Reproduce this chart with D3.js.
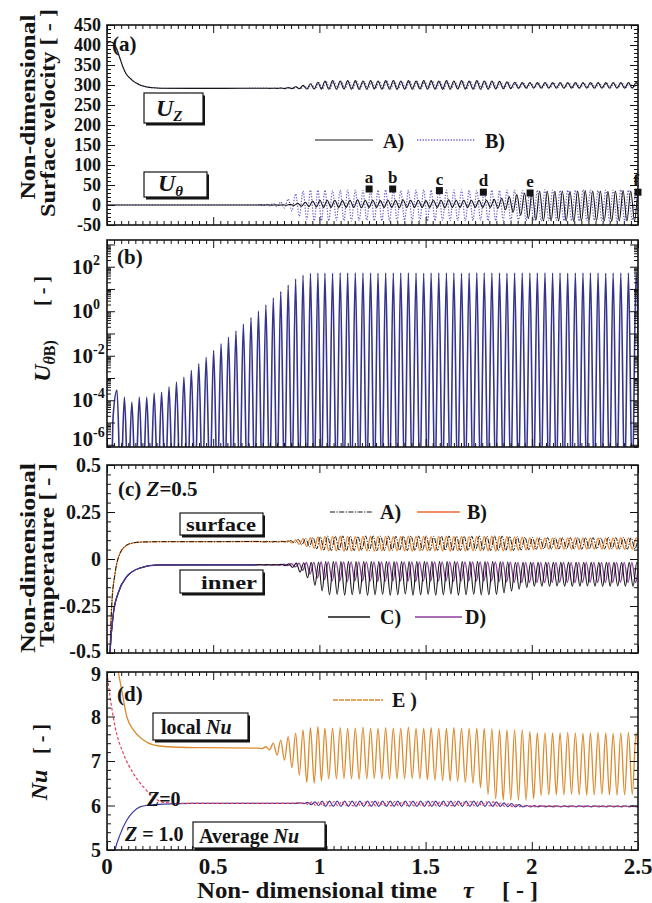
<!DOCTYPE html>
<html>
<head>
<meta charset="utf-8">
<script src="https://cdn.jsdelivr.net/npm/d3@7"></script>
<style>
  body { margin: 0; background: #fff; }
  svg text { font-family: "Liberation Serif", "Times New Roman", serif; font-weight: bold; fill: #141414; }
</style>
</head>
<body>
<svg id="fig" width="652" height="903"></svg>
<script>
// ---------------- data ----------------
const tauTicks = [0, 0.5, 1, 1.5, 2, 2.5];
const tauTickLabels = ["0", "0.5", "1", "1.5", "2", "2.5"];

// crest times of the oscillation (one per cycle)
const cycleTau = [
  0.047,0.082,0.117,0.152,0.187,0.222,0.257,0.292,0.327,0.362,
  0.397,0.432,0.467,0.502,0.537,0.572,0.607,0.642,0.678,0.713,
  0.748,0.783,0.818,0.853,0.888,0.923,0.958,0.993,1.026,1.062,
  1.098,1.133,1.169,1.205,1.241,1.276,1.312,1.348,1.383,1.419,
  1.455,1.491,1.526,1.562,1.598,1.633,1.669,1.705,1.741,1.776,
  1.812,1.848,1.883,1.919,1.955,1.991,2.026,2.062,2.098,2.133,
  2.169,2.205,2.241,2.276,2.312,2.348,2.383,2.419,2.455,2.491];
const OSC0 = 19; // first cycle listed in the per-cycle arrays of panels a, c, d

// (a) surface velocity
const uTicks = [-50, 0, 50, 100, 150, 200, 250, 300, 350, 400, 450];
const uTickLabels = ["-50", "0", "50", "100", "150", "200", "250", "300", "350", "400", "450"];
const uzRiseTau = [0,0.01,0.025,0.047,0.06,0.075,0.09,0.108,0.125,0.141,0.165,0.188,0.22,0.25,0.4,0.55,0.70];
const uzRise    = [403,408,406,388,368,345,328,317,309,304,298,295,293,292,291.5,291.5,292];
const uzAHi = [292,292,292,292.5,293.5,295.5,299,303,307,310,
  311,310,311,311,310,311,310,311,311,310,
  311,310,311,311,310,311,310,311,310,311,
  310,310,309,308,307,306,306,306,306,306,
  306,306,306,306,306,306,306,306,306,306,306];
const uzALo = [292,291.5,291.5,291,291,290.5,290,290,289.5,289.5,
  289.5,290,289.5,289,289.5,290,289.5,289.5,289,289.5,
  289.5,290,289.5,289.5,289,289.5,290,289.5,289.5,289.5,
  289.5,290,290.5,291,291.5,292,292,292,292,292,
  292,292,292,292,292,292,292,292,292,292,292];
const uzBHi = [292,292,292,292.5,293,295,298,302,306,309,
  310,309,310,310,309,310,309,310,310,309,
  310,309,310,310,309,310,309,310,309,310,
  309,309,308,307,306,305,305,305,305,305,
  305,305,305,305,305,305,305,305,305,305,305];
const uzBLo = [292,291.5,291.5,291,291,290.5,290.5,290,290,290,
  290,290.5,290,290,290,290.5,290,290,290,290,
  290,290.5,290,290,290,290,290.5,290,290,290,
  290,290.5,291,291.5,292,292.5,293,293,293,293,
  293,293,293,293,293,293,293,293,293,293,293];
const uthRiseTau = [0, 0.70];
const uthRise    = [0, 0];
const uthAHi = [0.3,0.3,0.3,0.5,1.5,4,7,10,12,12,
  12,11,12,13,12,12,11,12,12,13,
  12,12,11,12,12,13,12,12,12,12,
  12,14,17,21,26,30,33,35,35,35,
  35,34,35,36,35,35,34,35,36,35,35];
const uthALo = [-0.3,-0.3,-0.3,-0.5,-1,-3,-4,-5,-6,-6,
  -6,-6,-6,-7,-6,-6,-6,-6,-7,-6,
  -6,-6,-6,-6,-7,-6,-6,-6,-6,-6,
  -6,-8,-12,-18,-26,-34,-38,-40,-40,-40,
  -40,-41,-40,-40,-39,-40,-41,-40,-40,-40,-40];
const uthBHi = [1.0,1.9,3.9,7.6,15,28,35,37,37,37,
  36,37,38,37,36,37,37,38,37,36,
  37,37,38,37,36,37,37,38,37,36,
  37,37,36,37,37,36,37,37,38,37,
  36,37,37,38,37,36,37,37,38,37,37];
const uthBLo = [-1.0,-1.9,-3.9,-7.6,-15,-28,-36,-39,-39,-39,
  -38,-39,-40,-39,-38,-39,-39,-40,-39,-38,
  -39,-39,-40,-39,-38,-39,-39,-40,-39,-38,
  -39,-39,-38,-39,-40,-39,-39,-40,-39,-38,
  -39,-39,-40,-39,-38,-39,-39,-40,-39,-38,-39];
const markerName = ["a", "b", "c", "d", "e", "f"];
const markerTau  = [1.234, 1.345, 1.565, 1.772, 1.992, 2.5];
const markerVal  = [40, 40, 36, 32, 30, 32];

// (b) U_theta of B on a log axis
const logTicks = [-6, -4, -2, 0, 2];
const logTickLabels = ["-6", "-4", "-2", "0", "2"];
const ubLeadTau = [0.022, 0.029];
const ubLead    = [1e-8, 2e-5];
const ubPeak = [
  2.9e-4,1.4e-4,8.3e-5,1.4e-4,1.4e-4,2.1e-4,2.3e-4,4.0e-4,6.6e-4,1.1e-3,
  2.2e-3,4.3e-3,8.5e-3,1.7e-2,3.4e-2,6.8e-2,0.13,0.26,0.51,1.0,
  1.9,3.9,7.6,15,28,42,50,52,52,51,
  52,52,53,52,52,51,52,52,52,53,
  52,51,52,52,52,52,51,52,53,52,
  52,52,51,52,52,52,52,53,52,52,
  51,52,52,52,52,51,52,52,52,52];
const ubFloor = 1e-8;

// (c) temperature at Z = 0.5
const tTicks = [-0.5, -0.25, 0, 0.25, 0.5];
const tTickLabels = ["-0.5", "-0.25", "0", "0.25", "0.5"];
const tsRiseTau = [0.008,0.014,0.022,0.038,0.061,0.093,0.125,0.155,0.25,0.45,0.70];
const tsRise    = [-0.65,-0.5,-0.25,-0.076,0.030,0.074,0.086,0.090,0.092,0.092,0.093];
const tiRiseTau = [0.008,0.014,0.030,0.053,0.093,0.155,0.235,0.45,0.70];
const tiRise    = [-0.65,-0.5,-0.29,-0.18,-0.094,-0.048,-0.032,-0.031,-0.031];
const tsBHi = [0.093,0.093,0.093,0.094,0.097,0.102,0.108,0.113,0.117,0.120,
  0.120,0.121,0.120,0.119,0.120,0.121,0.120,0.120,0.119,0.120,
  0.121,0.120,0.120,0.119,0.120,0.121,0.120,0.120,0.119,0.120,
  0.120,0.121,0.120,0.120,0.118,0.116,0.114,0.112,0.112,0.112,
  0.112,0.112,0.113,0.112,0.112,0.111,0.112,0.112,0.113,0.112,0.112];
const tsBLo = [0.091,0.091,0.091,0.090,0.086,0.078,0.066,0.056,0.048,0.043,
  0.043,0.042,0.043,0.044,0.043,0.042,0.043,0.043,0.044,0.043,
  0.042,0.043,0.043,0.044,0.043,0.042,0.043,0.043,0.044,0.043,
  0.043,0.042,0.043,0.043,0.046,0.048,0.050,0.052,0.052,0.052,
  0.052,0.052,0.051,0.052,0.052,0.053,0.052,0.052,0.051,0.052,0.052];
const tsAHi = [0.093,0.093,0.093,0.094,0.098,0.104,0.110,0.115,0.119,0.122,
  0.122,0.123,0.122,0.121,0.122,0.123,0.122,0.122,0.121,0.122,
  0.123,0.122,0.122,0.121,0.122,0.123,0.122,0.122,0.121,0.122,
  0.122,0.123,0.122,0.121,0.119,0.117,0.115,0.114,0.114,0.114,
  0.114,0.114,0.115,0.114,0.114,0.113,0.114,0.114,0.115,0.114,0.114];
const tsALo = [0.091,0.091,0.091,0.090,0.085,0.076,0.064,0.054,0.047,0.045,
  0.045,0.044,0.045,0.046,0.045,0.044,0.045,0.045,0.046,0.045,
  0.044,0.045,0.045,0.046,0.045,0.044,0.045,0.045,0.046,0.045,
  0.045,0.044,0.045,0.045,0.047,0.049,0.051,0.053,0.053,0.053,
  0.053,0.053,0.052,0.053,0.053,0.054,0.053,0.053,0.052,0.053,0.053];
const tiCHi = [-0.030,-0.030,-0.030,-0.028,-0.025,-0.022,-0.020,-0.018,-0.016,-0.014,
  -0.014,-0.014,-0.014,-0.014,-0.014,-0.014,-0.014,-0.014,-0.014,-0.014,
  -0.014,-0.014,-0.014,-0.014,-0.014,-0.014,-0.014,-0.014,-0.014,-0.014,
  -0.014,-0.014,-0.015,-0.016,-0.017,-0.018,-0.018,-0.018,-0.018,-0.018,
  -0.018,-0.018,-0.018,-0.018,-0.018,-0.018,-0.018,-0.018,-0.018,-0.018,-0.018];
const tiCLo = [-0.032,-0.032,-0.032,-0.036,-0.045,-0.070,-0.100,-0.140,-0.170,-0.190,
  -0.188,-0.192,-0.190,-0.186,-0.193,-0.190,-0.188,-0.192,-0.190,-0.186,
  -0.192,-0.190,-0.188,-0.193,-0.190,-0.186,-0.192,-0.190,-0.188,-0.191,
  -0.190,-0.188,-0.180,-0.170,-0.160,-0.152,-0.145,-0.145,-0.146,-0.144,
  -0.145,-0.146,-0.145,-0.144,-0.145,-0.146,-0.145,-0.144,-0.145,-0.146,-0.145];
const tiDHi = [-0.030,-0.030,-0.030,-0.028,-0.025,-0.022,-0.020,-0.018,-0.016,-0.015,
  -0.015,-0.015,-0.015,-0.015,-0.015,-0.015,-0.015,-0.015,-0.015,-0.015,
  -0.015,-0.015,-0.015,-0.015,-0.015,-0.015,-0.015,-0.015,-0.015,-0.015,
  -0.015,-0.015,-0.016,-0.017,-0.018,-0.018,-0.018,-0.018,-0.018,-0.018,
  -0.018,-0.018,-0.018,-0.018,-0.018,-0.018,-0.018,-0.018,-0.018,-0.018,-0.018];
const tiDLo = [-0.032,-0.032,-0.032,-0.035,-0.042,-0.060,-0.080,-0.100,-0.110,-0.118,
  -0.118,-0.119,-0.118,-0.117,-0.118,-0.119,-0.118,-0.118,-0.117,-0.118,
  -0.119,-0.118,-0.118,-0.117,-0.118,-0.119,-0.118,-0.118,-0.117,-0.118,
  -0.118,-0.120,-0.122,-0.124,-0.125,-0.125,-0.125,-0.126,-0.125,-0.124,
  -0.125,-0.126,-0.125,-0.124,-0.125,-0.126,-0.125,-0.124,-0.125,-0.126,-0.125];

// (d) Nusselt number
const nuTicks = [5, 6, 7, 8, 9];
const nuTickLabels = ["5", "6", "7", "8", "9"];
const nuERiseTau = [0,0.03,0.053,0.069,0.093,0.124,0.171,0.218,0.281,0.45,0.70];
const nuERise    = [11,9.6,9.0,8.6,8.0,7.7,7.47,7.36,7.32,7.30,7.29];
const nuZ0RiseTau = [0,0.006,0.038,0.077,0.124,0.171,0.218,0.265,0.35,0.70];
const nuZ0Rise    = [8.98,8.75,7.77,7.17,6.72,6.42,6.19,6.07,6.05,6.05];
const nuZ1RiseTau = [0.03,0.038,0.061,0.093,0.122,0.155,0.2,0.265,0.4,0.70];
const nuZ1Rise    = [4.8,5.0,5.34,5.67,5.85,5.97,6.01,6.03,6.05,6.05];
const nuEHi = [7.29,7.32,7.40,7.47,7.55,7.62,7.70,7.75,7.77,7.74,
  7.74,7.75,7.73,7.74,7.76,7.74,7.73,7.75,7.74,7.74,
  7.76,7.73,7.74,7.75,7.74,7.73,7.75,7.74,7.74,7.74,
  7.73,7.72,7.70,7.70,7.70,7.70,7.66,7.63,7.63,7.63,
  7.63,7.64,7.63,7.62,7.63,7.64,7.63,7.62,7.63,7.64,7.63];
const nuELo = [7.28,7.25,7.13,7.02,6.85,6.68,6.52,6.50,6.55,6.60,
  6.60,6.61,6.60,6.59,6.60,6.61,6.60,6.59,6.60,6.60,
  6.61,6.60,6.58,6.57,6.56,6.55,6.54,6.52,6.50,6.40,
  6.25,6.15,6.12,6.12,6.12,6.12,6.15,6.22,6.24,6.24,
  6.24,6.25,6.24,6.23,6.24,6.25,6.24,6.23,6.24,6.25,6.24];
const nuZ0Hi = [6.05,6.05,6.05,6.05,6.05,6.06,6.07,6.08,6.09,6.09,
  6.09,6.09,6.09,6.09,6.09,6.09,6.09,6.09,6.09,6.09,
  6.09,6.09,6.09,6.09,6.09,6.09,6.09,6.09,6.09,6.09,
  6.09,6.08,6.06,6.04,6.02,6.00,6.00,6.00,6.00,5.99,
  5.99,5.99,5.99,5.99,5.99,5.99,5.99,5.99,5.99,5.99,5.99];
const nuZ0Lo = [6.05,6.05,6.05,6.05,6.05,6.04,6.02,6.00,5.99,5.99,
  5.99,5.99,5.99,5.99,5.99,5.99,5.99,5.99,5.99,5.99,
  5.99,5.99,5.99,5.99,5.99,5.99,5.99,5.99,5.99,5.99,
  5.99,5.985,5.98,5.975,5.975,5.975,5.975,5.975,5.975,5.975,
  5.975,5.975,5.975,5.975,5.975,5.975,5.975,5.975,5.975,5.975,5.975];
const nuZ1Hi = [6.05,6.05,6.05,6.05,6.05,6.06,6.07,6.08,6.10,6.10,
  6.10,6.10,6.10,6.10,6.10,6.10,6.10,6.10,6.10,6.10,
  6.10,6.10,6.10,6.10,6.10,6.10,6.10,6.10,6.10,6.10,
  6.09,6.08,6.06,6.04,6.02,6.00,6.00,5.99,5.99,5.99,
  5.99,5.99,5.99,5.99,5.99,5.99,5.99,5.99,5.99,5.99,5.99];
const nuZ1Lo = [6.05,6.05,6.05,6.05,6.05,6.04,6.02,6.00,5.98,5.98,
  5.98,5.98,5.98,5.98,5.98,5.98,5.98,5.98,5.98,5.98,
  5.98,5.98,5.98,5.98,5.98,5.98,5.98,5.98,5.98,5.98,
  5.98,5.98,5.975,5.97,5.97,5.97,5.97,5.97,5.97,5.97,
  5.97,5.97,5.97,5.97,5.97,5.97,5.97,5.97,5.97,5.97,5.97];

// ---------------- layout ----------------
const svg = d3.select("#fig");
const X0 = 107, X1 = 638;
const x = d3.scaleLinear().domain([0, 2.5]).range([X0, X1]);
const yA = d3.scaleLinear().domain([-50, 450]).range([225, 25]);
const yB = d3.scaleLog().domain([Math.pow(10, -6.1), Math.pow(10, 3.2)]).range([447, 240]);
const yC = d3.scaleLinear().domain([-0.5, 0.5]).range([653, 465]);
const yD = d3.scaleLinear().domain([5, 9]).range([850, 672]);

const INK = "#141414";
const xMinor = d3.range(0, 2.5001, 0.5 / 15).filter(t => Math.abs(t * 2 - Math.round(t * 2)) > 1e-6);

function clipFor(id, y) {
  const [b, t] = y.range();
  svg.append("clipPath").attr("id", id)
    .append("rect").attr("x", X0).attr("y", t).attr("width", X1 - X0).attr("height", b - t);
  return `url(#${id})`;
}

function tickSet(g, axis, tr) {
  const a = g.append("g").attr("transform", tr).call(axis.tickFormat(() => ""));
  a.select(".domain").remove();
  a.selectAll("line").attr("stroke", INK).attr("stroke-width", 1);
  a.selectAll("text").remove();
}

function frame(y, majorY, minorY) {
  const [b, t] = y.range();
  const g = svg.append("g");
  tickSet(g, d3.axisBottom(x).tickValues(tauTicks).tickSize(-8), `translate(0,${b})`);
  tickSet(g, d3.axisBottom(x).tickValues(xMinor).tickSize(-4), `translate(0,${b})`);
  tickSet(g, d3.axisTop(x).tickValues(tauTicks).tickSize(-8), `translate(0,${t})`);
  tickSet(g, d3.axisTop(x).tickValues(xMinor).tickSize(-4), `translate(0,${t})`);
  tickSet(g, d3.axisLeft(y).tickValues(majorY).tickSize(-8), `translate(${X0},0)`);
  tickSet(g, d3.axisLeft(y).tickValues(minorY).tickSize(-4), `translate(${X0},0)`);
  tickSet(g, d3.axisRight(y).tickValues(majorY).tickSize(-8), `translate(${X1},0)`);
  tickSet(g, d3.axisRight(y).tickValues(minorY).tickSize(-4), `translate(${X1},0)`);
  g.append("rect").attr("x", X0).attr("y", t).attr("width", X1 - X0).attr("height", b - t)
    .attr("fill", "none").attr("stroke", INK).attr("stroke-width", 1.6);
}

// smooth start followed by one crest and one trough per cycle
function wave(riseTau, rise, hi, lo, lag) {
  const pts = riseTau.map((t, i) => [t, rise[i]]);
  hi.forEach((h, k) => {
    const i = OSC0 + k;
    const t0 = cycleTau[i];
    const per = i + 1 < cycleTau.length ? cycleTau[i + 1] - t0 : t0 - cycleTau[i - 1];
    pts.push([t0 + lag * per, h]);
    pts.push([t0 + per / 2 + lag * per, lo[k]]);
  });
  return pts;
}

function drawLine(pts, y, clip, stroke, width, dash) {
  const line = d3.line().x(d => x(d[0])).y(d => y(d[1])).curve(d3.curveMonotoneX);
  const p = svg.append("path").datum(pts).attr("d", line).attr("clip-path", clip)
    .attr("fill", "none").attr("stroke", stroke).attr("stroke-width", width)
    .attr("stroke-linejoin", "round");
  if (dash) p.attr("stroke-dasharray", dash);
  return p;
}

function txt(xp, yp, s, size, opts = {}) {
  const t = svg.append("text").attr("x", xp).attr("y", yp).attr("font-size", size).text(s);
  if (opts.anchor) t.attr("text-anchor", opts.anchor);
  if (opts.italic) t.attr("font-style", "italic");
  if (opts.len) t.attr("textLength", opts.len).attr("lengthAdjust", "spacingAndGlyphs");
  return t;
}

function shadowBox(bx, by, bw, bh) {
  svg.append("rect").attr("x", bx + 2).attr("y", by + 2.5).attr("width", bw).attr("height", bh).attr("fill", INK);
  svg.append("rect").attr("x", bx).attr("y", by).attr("width", bw).attr("height", bh)
    .attr("fill", "#fff").attr("stroke", INK).attr("stroke-width", 1.2);
}

function rotLabel(cx, cy, size, len) {
  const t = svg.append("text").attr("transform", `translate(${cx},${cy}) rotate(-90)`)
    .attr("text-anchor", "middle").attr("font-size", size);
  if (len) t.attr("textLength", len).attr("lengthAdjust", "spacingAndGlyphs");
  return t;
}

function legendSeg(x0, x1, yy, stroke, width, dash) {
  const l = svg.append("line").attr("x1", x0).attr("x2", x1).attr("y1", yy).attr("y2", yy)
    .attr("stroke", stroke).attr("stroke-width", width);
  if (dash) l.attr("stroke-dasharray", dash);
}

// ---------------- panel (a) ----------------
const clipA = clipFor("clipA", yA);
drawLine(wave(uzRiseTau, uzRise, uzBHi, uzBLo, 0.15), yA, clipA, "#6f5fc8", 1.2, "1.3,1.5");
drawLine(wave(uzRiseTau, uzRise, uzAHi, uzALo, 0), yA, clipA, INK, 1.1);
drawLine(wave(uthRiseTau, uthRise, uthBHi, uthBLo, 0), yA, clipA, "#6f5fc8", 1.2, "1.3,1.5");
drawLine(wave(uthRiseTau, uthRise, uthAHi, uthALo, 0.3), yA, clipA, INK, 1.1);
frame(yA, uTicks, d3.range(-50, 451, 10).filter(v => v % 50 !== 0));
uTicks.forEach((v, i) => txt(101, yA(v) + 6, uTickLabels[i], 18, { anchor: "end" }));
markerTau.forEach((t, i) => {
  svg.append("rect").attr("x", x(t) - 3.5).attr("y", yA(markerVal[i]) - 3.5)
    .attr("width", 7).attr("height", 7).attr("fill", INK);
  txt(x(t) - (i === 5 ? 2 : 0), yA(markerVal[i]) - 6, markerName[i], 17, { anchor: "middle" });
});
txt(112, 51, "(a)", 21);
legendSeg(315, 373, 140, INK, 1.2);
txt(383, 148, "A)", 20);
legendSeg(417, 475, 140, "#6f5fc8", 1.3, "1.3,1.5");
txt(485, 148, "B)", 20);
shadowBox(144, 93, 59, 30);
{ const t = txt(156, 116, "", 24, { italic: true });
  t.append("tspan").text("U");
  t.append("tspan").attr("dy", 5).attr("font-size", 15).text("Z"); }
shadowBox(144, 172, 63, 25);
{ const t = txt(158, 191, "", 24, { italic: true });
  t.append("tspan").text("U");
  t.append("tspan").attr("dy", 5).attr("font-size", 15).text("θ"); }
rotLabel(35, 107, 22, 185).text("Non-dimensional");
rotLabel(55, 113, 22, 208).text("Surface velocity  [ - ]");

// ---------------- panel (b) ----------------
const clipB = clipFor("clipB", yB);
{
  const pts = ubLeadTau.map((t, i) => [t, ubLead[i]]);
  ubPeak.forEach((p, i) => {
    const t0 = cycleTau[i];
    const per = i + 1 < cycleTau.length ? cycleTau[i + 1] - t0 : t0 - cycleTau[i - 1];
    pts.push([t0, p]);
    pts.push([t0 + per / 2, ubFloor]);
  });
  drawLine(pts, yB, clipB, "#34348c", 1.6);
}
{
  const dec = d3.range(-6, 4);
  const minor = [];
  dec.forEach(e => d3.range(2, 10).forEach(m => minor.push(m * Math.pow(10, e - 1))));
  const [lo, hi] = yB.domain();
  frame(yB, dec.map(e => Math.pow(10, e)).filter(v => v >= lo && v <= hi), minor.filter(v => v >= lo && v <= hi));
}
logTicks.forEach((e, i) => {
  const yy = Math.min(yB(Math.pow(10, e)) + 7, 446);
  const t = txt(72, yy, "10", 21);
  t.append("tspan").attr("dy", -9).attr("font-size", 14).text(logTickLabels[i]);
});
txt(117, 264, "(b)", 21);
{ const t = rotLabel(50, 361, 24);
  t.append("tspan").attr("font-style", "italic").text("U");
  t.append("tspan").attr("dy", 5).attr("font-size", 16).attr("font-style", "italic").text("θ");
  t.append("tspan").attr("font-size", 16).text("B)"); }
rotLabel(49, 291, 20).text("[ - ]");

// ---------------- panel (c) ----------------
const clipC = clipFor("clipC", yC);
drawLine(wave(tsRiseTau, tsRise, tsBHi, tsBLo, 0), yC, clipC, "#ec8a3a", 1.3);
drawLine(wave(tsRiseTau, tsRise, tsAHi, tsALo, 0.35), yC, clipC, INK, 1.0, "5,1.5,1.2,1.5");
drawLine(wave(tiRiseTau, tiRise, tiDHi, tiDLo, 0.45), yC, clipC, "#8c3c9c", 1.3);
drawLine(wave(tiRiseTau, tiRise, tiCHi, tiCLo, 0.1), yC, clipC, INK, 1.1);
// the early inner rise is drawn in the bluish tone of D
drawLine(tiRiseTau.map((t, i) => [t, tiRise[i]]), yC, clipC, "#4a3c9c", 1.2);
frame(yC, tTicks, d3.range(-0.5, 0.5001, 0.05).filter(v => Math.abs(v * 4 - Math.round(v * 4)) > 1e-6));
tTicks.forEach((v, i) => txt(101, i === 0 ? yC(v) + 5 : yC(v) + 7, tTickLabels[i], 20, { anchor: "end" }));
{ const t = txt(118, 496, "(c) ", 21);
  t.append("tspan").attr("font-style", "italic").text(" Z");
  t.append("tspan").text("=0.5"); }
legendSeg(330, 373, 512, INK, 1.2, "5,1.5,1.2,1.5");
txt(380, 519, "A)", 20);
legendSeg(417, 460, 512, "#ec6a3a", 1.4);
txt(467, 519, "B)", 20);
legendSeg(328, 370, 617, INK, 1.4);
txt(380, 624, "C)", 20);
legendSeg(415, 462, 617, "#8c3c9c", 1.4);
txt(465, 624, "D)", 20);
shadowBox(180, 513, 83, 22);
txt(186, 531, "surface", 19, { len: 70 });
shadowBox(180, 570, 83, 23);
txt(201, 589, "inner", 19, { len: 56 });
rotLabel(35, 558, 22, 190).text("Non-dimensional");
rotLabel(54, 555, 22, 184).text("Temperature  [ - ]");

// ---------------- panel (d) ----------------
const clipD = clipFor("clipD", yD);
drawLine(wave(nuERiseTau, nuERise, nuEHi, nuELo, 0), yD, clipD, "#dc8a2e", 1.3);
drawLine(wave(nuZ1RiseTau, nuZ1Rise, nuZ1Hi, nuZ1Lo, 0.6), yD, clipD, "#3a3aa8", 1.2);
drawLine(wave(nuZ0RiseTau, nuZ0Rise, nuZ0Hi, nuZ0Lo, 0.2), yD, clipD, "#e8405c", 1.2, "3,2");
frame(yD, nuTicks, d3.range(5, 9.001, 0.2).filter(v => Math.abs(v - Math.round(v)) > 1e-6));
nuTicks.forEach((v, i) => txt(101, i === 4 ? yD(v) + 9 : yD(v) + 7, nuTickLabels[i], 20, { anchor: "end" }));
txt(117, 701, "(d)", 21);
legendSeg(333, 383, 700, "#dc8a2e", 1.3, "5,1");
txt(392, 707, "E )", 20);
shadowBox(153, 713, 95, 27);
{ const t = txt(161, 734, "local ", 20);
  t.append("tspan").attr("font-style", "italic").text("Nu"); }
shadowBox(193, 822, 132, 26);
{ const t = txt(199, 843, "Average ", 20);
  t.append("tspan").attr("font-style", "italic").text("Nu"); }
{ const t = txt(147, 806, "", 20);
  t.append("tspan").attr("font-style", "italic").text("Z");
  t.append("tspan").text("=0"); }
{ const t = txt(125, 841, "", 20);
  t.append("tspan").attr("font-style", "italic").text("Z");
  t.append("tspan").text(" = 1.0"); }
rotLabel(47, 785, 24).append("tspan").attr("font-style", "italic").text("Nu");
rotLabel(48, 739, 20).text("[ - ]");

// shared time axis
tauTicks.forEach((t, i) => txt(x(t), 874, tauTickLabels[i], 23, { anchor: "middle" }));
txt(197, 898, "Non- dimensional time", 24, { len: 240 });
txt(463, 898, "τ", 24, { italic: true });
txt(502, 898, "[ - ]", 24);
</script>
</body>
</html>
